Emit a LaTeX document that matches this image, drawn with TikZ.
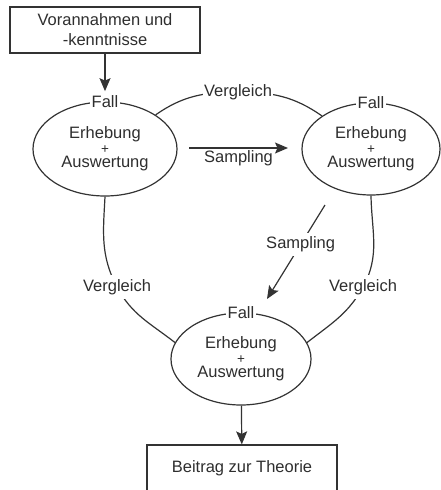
\documentclass[tikz,border=0pt]{standalone}
\usepackage{fontspec}
\setmainfont{Liberation Sans}
\usetikzlibrary{shapes.geometric,arrows.meta,backgrounds}
\definecolor{linec}{HTML}{333333}
\definecolor{textc}{HTML}{2E2E2E}
\newcommand{\smallplus}{{\fontsize{13.5}{14.5}\selectfont +}}
\begin{document}
\begin{tikzpicture}[x=1pt,y=1pt,
  ln/.style={draw=linec, line width=1.2pt},
  arr/.style={-{Stealth[length=13pt,width=11pt,inset=2.5pt]}},
  txt/.style={text=textc, font=\fontsize{16.5}{20}\selectfont},
  boxnode/.style={txt, draw=linec, line width=1.2pt, align=center, inner sep=0pt},
  ell/.style={txt, ellipse, draw=linec, line width=1.2pt, align=center, inner sep=0pt,
    font=\fontsize{16.5}{14.5}\selectfont},
  lbl/.style={txt, fill=white, inner xsep=1.5pt, inner ysep=4pt},
  plain/.style={txt, inner sep=2pt}
]
\useasboundingbox (0,0) rectangle (440,-490);

\node[boxnode, minimum width=190, minimum height=46] (b1) at (105,-30) {Vorannahmen und\\-kenntnisse};
\node[boxnode, minimum width=190, minimum height=47] (b2) at (242,-468.5) {Beitrag zur Theorie};

\node[ell, minimum width=144, minimum height=94] (e1) at (105,-149) {Erhebung\\\smallplus\\Auswertung};
\node[ell, minimum width=138, minimum height=92] (e2) at (371,-149) {Erhebung\\\smallplus\\Auswertung};
\node[ell, minimum width=140, minimum height=92] (e3) at (241,-359) {Erhebung\\\smallplus\\Auswertung};

\node[lbl] (f1) at (e1.north) {Fall};
\node[lbl] (f2) at (e2.north) {Fall};
\node[lbl] (f3) at (e3.north) {Fall};

\node[lbl] (v1) at (238,-92) {Vergleich};
\node[lbl] (v2) at (117,-287) {Vergleich};
\node[lbl] (v3) at (363,-287) {Vergleich};

\begin{scope}[on background layer]
\draw[ln] (e1.34) to[out=35,in=180] (v1.center) to[out=0,in=145] (e2.146);
\draw[ln] (e1.south) to[out=-93,in=118] (v2.center) to[out=-62,in=142] (e3.166);
\draw[ln] (e2.south) to[out=-89,in=61] (v3.center) to[out=-119,in=38] (e3.14);
\end{scope}

\draw[ln,arr] (b1) -- (f1);
\draw[ln,arr] (e3) -- (b2);

\coordinate (s1a) at (189,-148);
\coordinate (s1b) at (288,-148);
\draw[ln,arr] (s1a) -- (s1b) node[plain, midway, below] (sl1) {Sampling};

\coordinate (s2a) at (325,-205);
\coordinate (s2b) at (267,-299);
\draw[ln,arr] (s2a) -- (s2b) node[lbl, pos=0.42] (sl2) {Sampling};
\end{tikzpicture}
\end{document}
